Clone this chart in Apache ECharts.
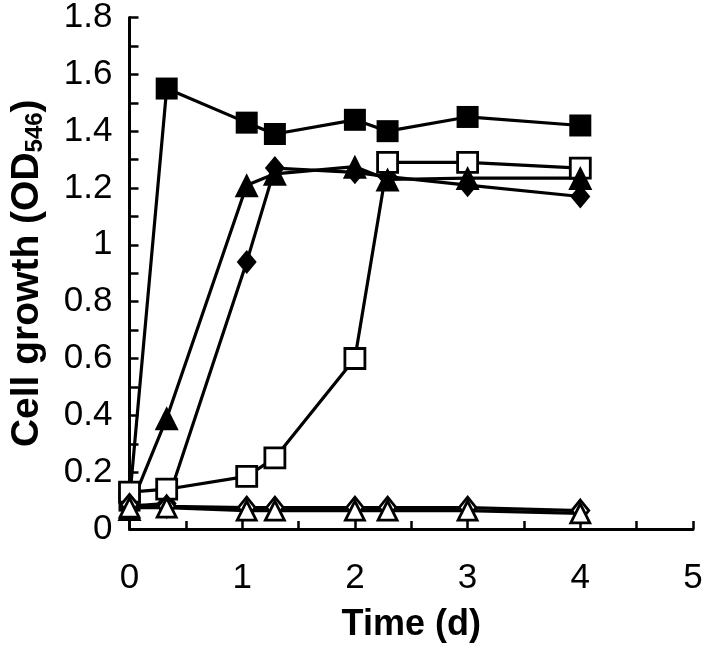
<!DOCTYPE html>
<html>
<head>
<meta charset="utf-8">
<script src="https://cdn.jsdelivr.net/npm/echarts@6.0.0/dist/echarts.min.js"></script>
<style>
  html, body { margin: 0; padding: 0; background: #fff; }
  #chart { width: 709px; height: 648px; }
</style>
</head>
<body>
<div id="chart"></div>
<script>
// sampling times (d)
const times = [0, 0.33, 1.04, 1.29, 2, 2.29, 3, 4];

// OD546 readings, one array per culture
const filledSquare   = [0.10, 1.55, 1.43, 1.39, 1.44, 1.40, 1.45, 1.42];
const filledDiamond  = [0.08, 0.09, 0.94, 1.27, 1.255, 1.24, 1.21, 1.17];
const openSquare     = [0.13, 0.14, 0.185, 0.25, 0.60, 1.29, 1.29, 1.27];
const filledTriangle = [0.07, 0.39, 1.21, 1.25, 1.275, 1.23, 1.235, 1.235];
const openDiamond    = [0.085, 0.08, 0.075, 0.075, 0.075, 0.075, 0.075, 0.065];
const openTriangle   = [0.075, 0.075, 0.065, 0.065, 0.065, 0.065, 0.065, 0.055];

const FONT = '"Liberation Sans", Arial, sans-serif';

function pts(vals) {
  return times.map((t, i) => [t, vals[i]]);
}

// filled or hollow black marker line
function mk(name, vals, symbol, size, hollow) {
  return {
    name, type: 'line', data: pts(vals),
    symbol, symbolSize: size, showSymbol: true,
    lineStyle: { color: '#000', width: 3.2 },
    itemStyle: hollow
      ? { color: '#fff', borderColor: '#000', borderWidth: 2.8 }
      : { color: '#000', borderColor: '#000', borderWidth: 0 },
    emphasis: { disabled: true },
    animation: false
  };
}

const chart = echarts.init(document.getElementById('chart'), null, { renderer: 'canvas' });

chart.setOption({
  backgroundColor: '#fff',
  animation: false,
  grid: { left: 128, right: 16, top: 14, bottom: 119 },
  xAxis: {
    type: 'value', min: 0, max: 5, interval: 1,
    name: 'Time (d)', nameLocation: 'middle', nameGap: 78,
    nameTextStyle: { fontFamily: FONT, fontSize: 36, fontWeight: 'bold', color: '#000' },
    axisLine: { show: true, onZero: false, lineStyle: { color: '#000', width: 3 } },
    axisTick: { show: true, inside: true, length: 8, lineStyle: { color: '#000', width: 2.5 } },
    minorTick: { show: true, splitNumber: 2, length: 8, lineStyle: { color: '#000', width: 2.5 } },
    axisLabel: { fontFamily: FONT, fontSize: 35, color: '#000', margin: 32 },
    splitLine: { show: false }
  },
  yAxis: {
    type: 'value', min: 0, max: 1.8, interval: 0.2,
    name: '{a|Cell growth (OD}{s|546}{a|)}', nameLocation: 'middle', nameGap: 82, nameRotate: 90,
    nameTextStyle: {
      rich: {
        a: { fontFamily: FONT, fontSize: 39, fontWeight: 'bold', color: '#000' },
        s: { fontFamily: FONT, fontSize: 24, fontWeight: 'bold', color: '#000', verticalAlign: 'bottom', padding: [16, 0, 0, 0] }
      }
    },
    axisLine: { show: true, onZero: false, lineStyle: { color: '#000', width: 3 } },
    axisTick: { show: true, inside: true, length: 9, lineStyle: { color: '#000', width: 2.5 } },
    minorTick: { show: true, splitNumber: 2, length: 9, lineStyle: { color: '#000', width: 2.5 } },
    axisLabel: { fontFamily: FONT, fontSize: 35, color: '#000', margin: 17 },
    splitLine: { show: false }
  },
  series: [
    mk('filled square', filledSquare, 'rect', 22, false),
    mk('filled diamond', filledDiamond, 'diamond', [20, 24], false),
    mk('open square', openSquare, 'rect', 20, true),
    mk('filled triangle', filledTriangle, 'triangle', 24, false),
    mk('open diamond', openDiamond, 'diamond', [17, 21], true),
    mk('open triangle', openTriangle, 'triangle', 19, true)
  ]
});
</script>
</body>
</html>
